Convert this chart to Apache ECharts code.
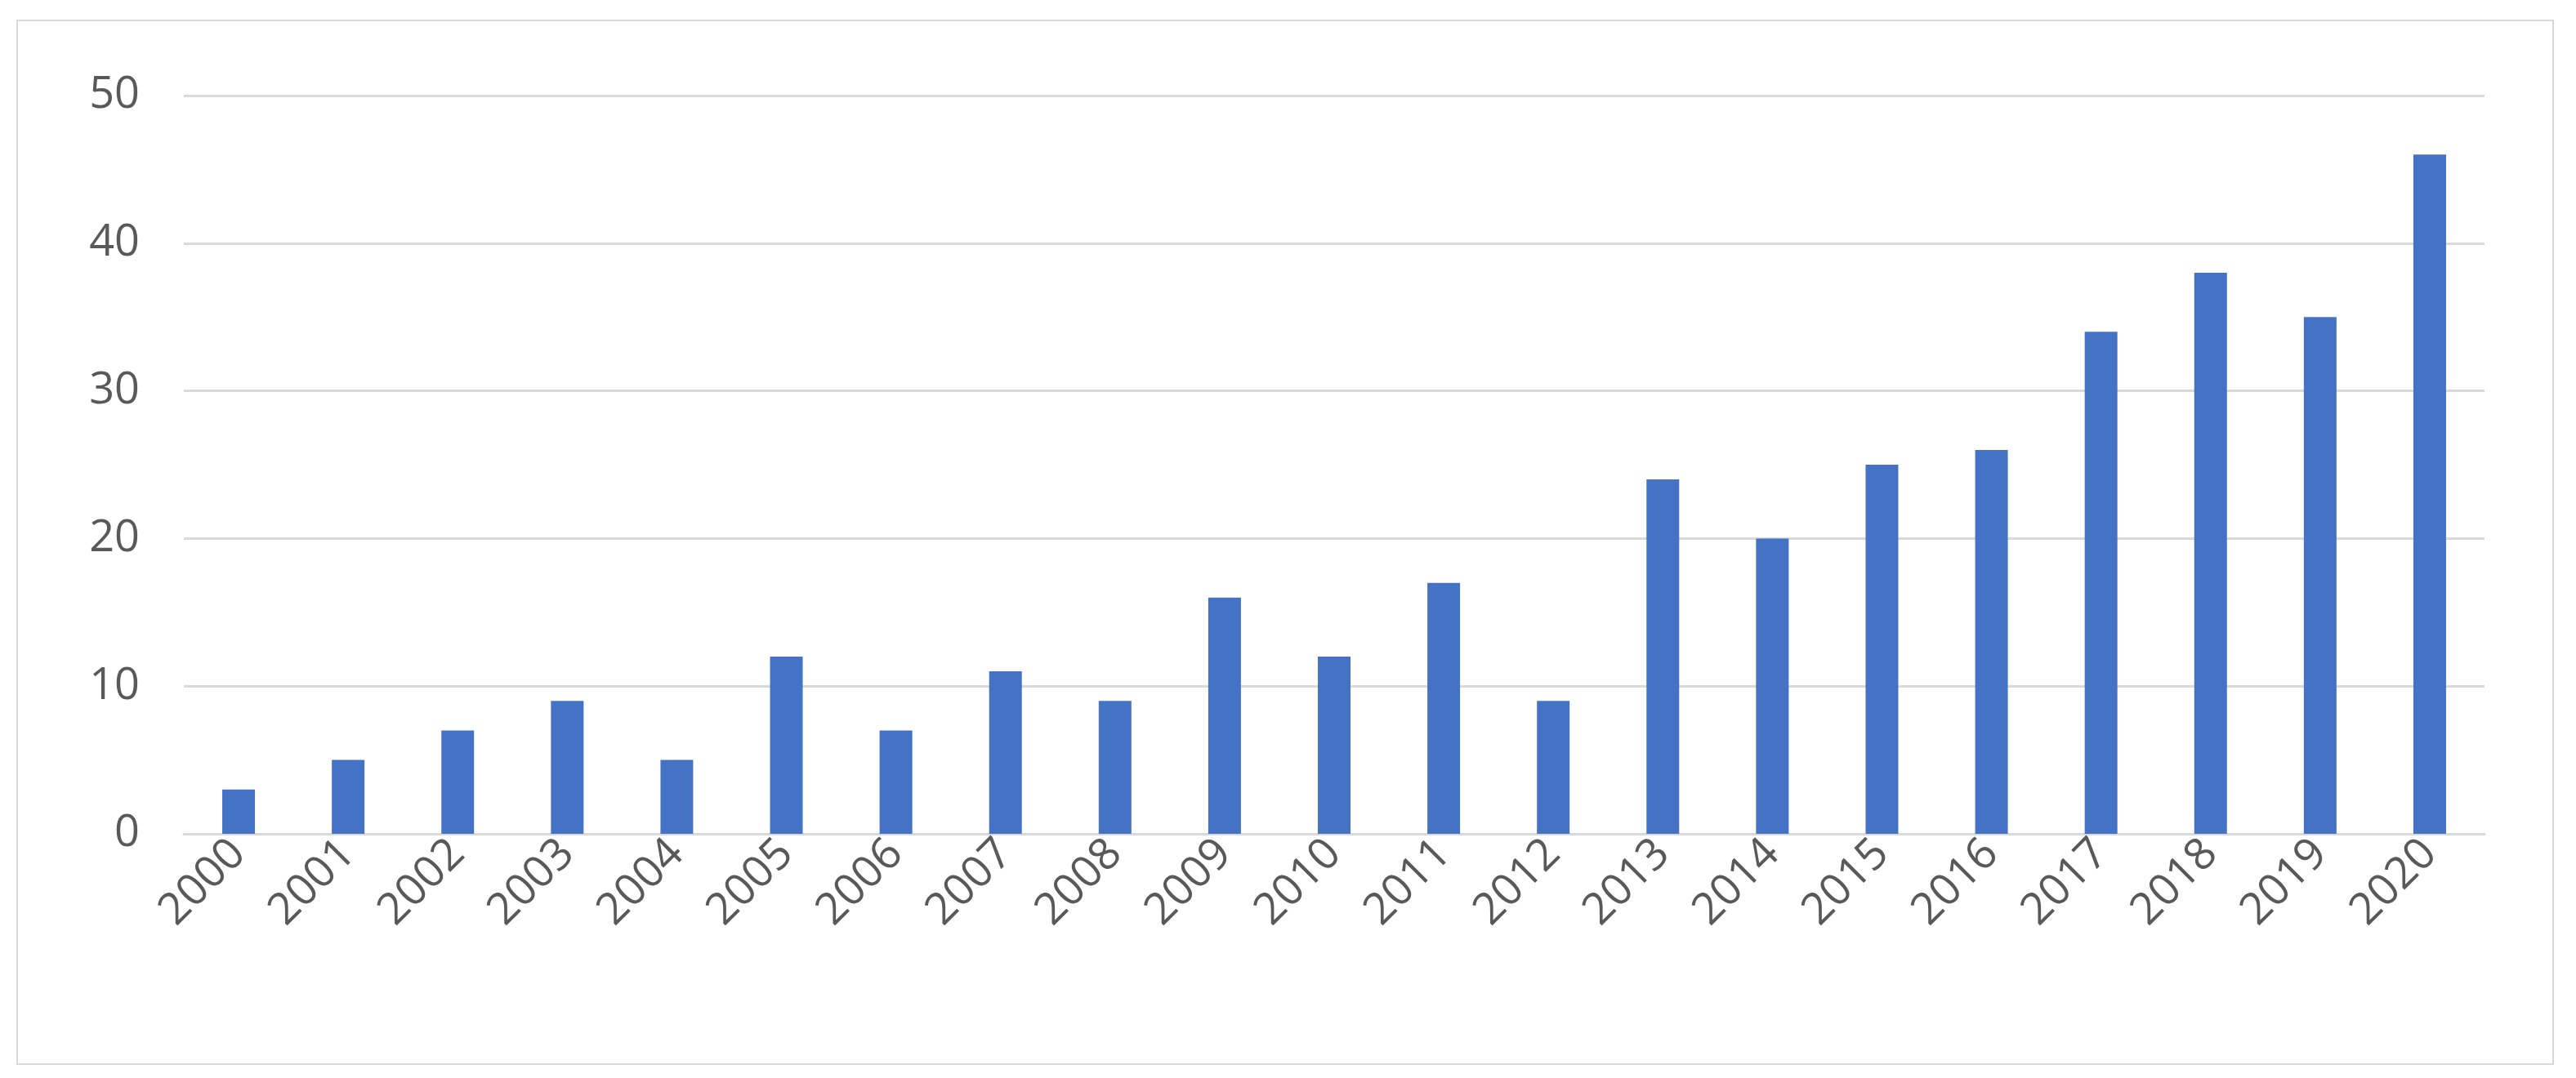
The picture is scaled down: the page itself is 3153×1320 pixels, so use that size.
<!DOCTYPE html>
<html>
<head>
<meta charset="utf-8">
<script src="https://cdn.jsdelivr.net/npm/echarts@6/dist/echarts.min.js"></script>
<style>
html,body{margin:0;padding:0;background:#fff;}
#frame{position:absolute;left:20px;top:24px;width:3106px;height:1280px;border:2px solid #d9d9d9;box-sizing:border-box;}
#chart{width:3153px;height:1320px;}
</style>
</head>
<body>
<div id="frame"></div>
<div id="chart"></div>
<script>
var years = ['2000','2001','2002','2003','2004','2005','2006','2007','2008','2009','2010',
  '2011','2012','2013','2014','2015','2016','2017','2018','2019','2020'];
var counts = [3,5,7,9,5,12,7,11,9,16,12,17,9,24,20,25,26,34,38,35,46];

var myChart = echarts.init(document.getElementById('chart'));
var option = {
  animation: false,
  grid: {
    left: 225,
    right: 112,
    top: 117,
    bottom: 299
  },
  xAxis: {
    type: 'category',
    data: years,
    axisLine: { show: true, lineStyle: { color: '#d9d9d9', width: 3 } },
    axisTick: { show: false },
    axisLabel: {
      interval: 0,
      rotate: 45,
      color: '#595959',
      fontSize: 54,
      fontFamily: 'Open Sans',
      margin: 16
    }
  },
  yAxis: {
    type: 'value',
    min: 0,
    max: 50,
    interval: 10,
    axisLine: { show: false },
    axisTick: { show: false },
    splitLine: { lineStyle: { color: '#d9d9d9', width: 3 } },
    axisLabel: {
      color: '#595959',
      fontSize: 54,
      fontFamily: 'Open Sans',
      margin: 54
    }
  },
  series: [{
    type: 'bar',
    data: counts,
    barWidth: 40,
    itemStyle: { color: '#4472c4' }
  }]
};
myChart.setOption(option);
</script>
</body>
</html>
